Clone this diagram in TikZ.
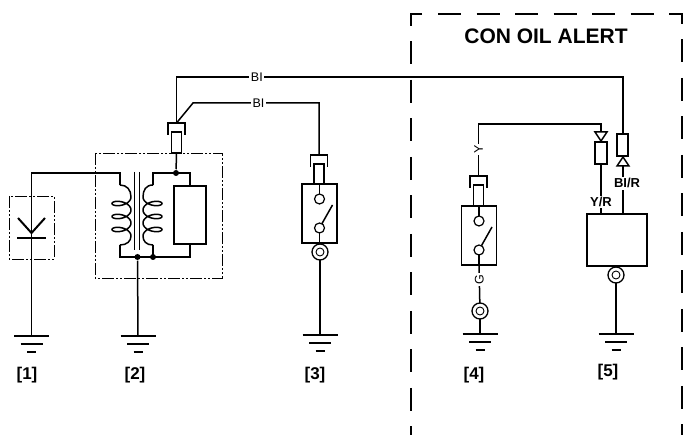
\documentclass[tikz,border=0pt]{standalone}
\usepackage{fontspec}
\setmainfont{Liberation Sans}
\tikzset{
    wire/.style={line width=1.5pt},
    dashdotbox/.style={line width=.9pt, dash pattern=on 12pt off 2pt on 2pt off 2pt on 2pt off 2pt},
    alertline/.style={line width=2.2pt, dash pattern=on 23pt off 15.5pt},
    partbox/.style={draw, line width=1.2pt, fill=white, inner sep=0pt, outer sep=0pt},
    contact/.style={circle, draw, line width=1.2pt, fill=white, inner sep=0pt, outer sep=0pt, minimum size=10pt},
    ringterm/.style={circle, draw, line width=1.3pt, fill=white, inner sep=0pt, outer sep=0pt, minimum size=16pt},
    joint/.style={circle, fill=black, inner sep=0pt, minimum size=6pt},
    wiretag/.style={fill=white, inner sep=1.5pt, font=\fontsize{12.5}{12.5}\selectfont},
    boldtag/.style={fill=white, inner sep=1.5pt, font=\bfseries\fontsize{13}{13}\selectfont},
    partnum/.style={font=\bfseries\fontsize{17}{17}\selectfont}
}
\begin{document}
\begin{tikzpicture}[x=1pt, y=-1pt, wire]
    \useasboundingbox (0, 0) rectangle (683, 435);
    % alert unit frame
    \draw[alertline] (422, 14) -- (411, 14) -- (411, 435);
    \draw[alertline] (438, 14) -- (682, 14) -- (682, 435);
    \node[font=\bfseries\fontsize{21}{21}\selectfont] (title) at (546, 36) {CON OIL ALERT};
    % grounds and part numbers
    \foreach \i/\gx/\gy/\nx/\ny in {1/31.5/336/27/375, 2/138/336/135/375, 3/320/335/315/375, 4/480/334/474/375, 5/616/334/608/372} {
        \coordinate (gnd\i) at (\gx, \gy);
        \draw[line width=2pt] (\gx-17.5, \gy) -- (\gx+17.5, \gy);
        \draw[line width=1.2pt] (\gx-11, \gy+8) -- (\gx+11, \gy+8);
        \draw[line width=1.2pt] (\gx-4.5, \gy+16) -- (\gx+4.5, \gy+16);
        \node[partnum] (num\i) at (\nx, \ny) {[\i]};
    }
    % [1]
    \draw[dashdotbox] (9, 196) rectangle (54, 259);
    \coordinate (diodetop) at (31.5, 173);
    \coordinate (primtop) at (120, 173);
    \draw (gnd1) -- (diodetop) -- (primtop) -- (120, 185);
    \draw[line width=2pt] (18, 218) -- (31.5, 233) -- (45, 218);
    \draw[line width=2.6pt] (17, 238) -- (46, 238);
    % [2]
    \draw[dashdotbox] (95, 153) rectangle (222, 278);
    \foreach \cx/\sgn/\ex in {121.5/1/120, 152.5/-1/153} {
        \draw (\ex, 185) .. controls ({\ex+7*\sgn}, 185) and ({\cx+9.5*\sgn}, 190) .. ({\cx+9.5*\sgn}, 197);
        \draw[smooth, samples=90, domain=0:1080, variable=\t] plot ({\cx+\sgn*9.5*cos(\t)}, {197+13*\t/360+5*sin(\t)});
        \draw ({\cx+9.5*\sgn}, 236) .. controls ({\cx+9.5*\sgn}, 241) and ({\ex+7*\sgn}, 245) .. (\ex, 245);
    }
    \draw[line width=1pt] (134, 172) -- (134, 250);
    \draw[line width=1pt] (139, 172) -- (139, 250);
    \node[partbox, minimum width=32pt, minimum height=58pt] (resistor) at (190, 215) {};
    \node[joint] (jointa) at (176, 173) {};
    \node[joint] (jointb) at (137.5, 257) {};
    \node[joint] (jointc) at (153, 257) {};
    \draw (120, 245) -- (120, 257) -- (190, 257) -- (resistor.south);
    \draw (153, 245) -- (153, 257);
    \draw (153, 185) -- (153, 173) -- (190, 173) -- (resistor.north);
    \draw (jointb) -- (gnd2);
    % plugs
    \foreach \i/\cx/\cy in {2/176.5/123, 3/319/155, 4/478.5/176} {
        \draw[line width=1.1pt] (\cx-8.5, \cy+12) -- (\cx-8.5, \cy) -- (\cx+8.5, \cy) -- (\cx+8.5, \cy+12);
        \node[partbox, minimum width=10pt, minimum height=21pt] (plug\i) at (\cx, \cy+19.5) {};
    }
    \draw (plug2.south) -- (jointa);
    % switches [3] and [4]
    \foreach \i/\cx/\cy in {3/319.5/184, 4/479/206} {
        \node[partbox, minimum width=35pt, minimum height=59pt] (sw\i) at (\cx, \cy+29.5) {};
        \node[contact] (sw\i a) at (\cx, \cy+15) {};
        \node[contact] (sw\i b) at (\cx, \cy+44) {};
        \draw (sw\i.north) -- (sw\i a);
        \draw (sw\i b) -- (sw\i.south);
        \draw (sw\i b) -- (\cx+13, \cy+21);
    }
    % terminals
    \foreach \i/\cx/\cy in {3/320/252, 4/480/311, 5/616/275} {
        \node[ringterm] (ring\i) at (\cx, \cy) {};
        \draw[line width=.9pt] (ring\i.center) circle [radius=4];
        \draw (ring\i) -- (gnd\i);
    }
    \draw (sw3.south) -- (ring3);
    % [5]
    \node[partbox, minimum width=60pt, minimum height=52pt] (alert) at (617, 240) {};
    \draw (alert.south -| ring5) -- (ring5);
    \node[partbox, minimum width=12pt, minimum height=22pt] (plugy) at (601, 153) {};
    \node[partbox, minimum width=11pt, minimum height=22pt] (plugbl) at (622.5, 145) {};
    \draw[fill=white] (595, 132) -- (607, 132) -- (601, 141) -- cycle;
    \draw[fill=white] (617, 166) -- (629, 166) -- (623, 157) -- cycle;
    \coordinate (bltop) at (623, 77);
    \coordinate (bitopleft) at (176.5, 77);
    \coordinate (bilowbend) at (193, 103);
    \coordinate (bilowright) at (319, 103);
    \coordinate (yleft) at (478.5, 124);
    \coordinate (yright) at (601, 124);
    % wires with their tags
    \draw (plug2.north |- 0, 123) -- (bitopleft) -- node[wiretag, pos=.18] (bitag) {BI} (bltop) -- (plugbl.north -| bltop);
    \draw (plug2.north |- 0, 123) -- (bilowbend) -- node[wiretag, pos=.52] (bilowtag) {BI} (bilowright) -- (319, 155);
    \draw (478.5, 176) -- node[wiretag, rotate=90, pos=.51] (ytag) {Y} (yleft) -- (yright) -- (601, 132);
    \draw (sw4.south) -- node[wiretag, rotate=90, pos=.38] (gtag) {G} (ring4);
    \draw (plugy.south) -- node[boldtag, pos=.76] (yrtag) {Y/R} (plugy.south |- alert.north);
    \draw (623, 166) -- node[boldtag, pos=.36, xshift=4pt] (blrtag) {BI/R} (623, 214);
\end{tikzpicture}
\end{document}
